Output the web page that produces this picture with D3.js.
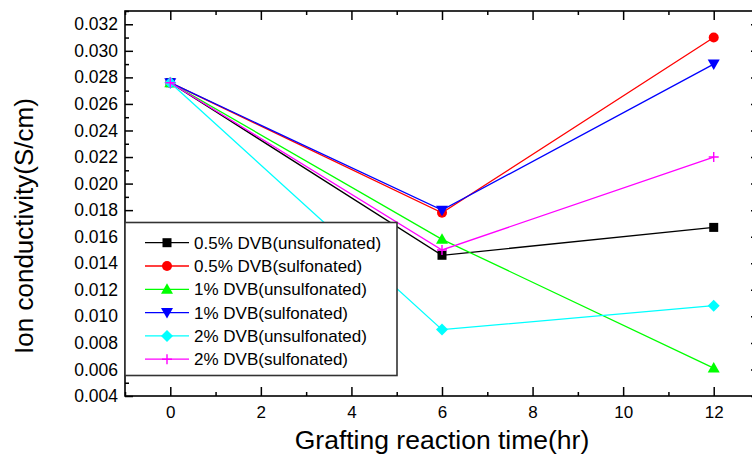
<!DOCTYPE html>
<html>
<head>
<meta charset="utf-8">
<script src="https://cdn.jsdelivr.net/npm/d3@7"></script>
<style>
  body { margin: 0; background: #fff; }
  svg { display: block; }
  text { font-family: "Liberation Sans", Arial, sans-serif; fill: #000; }
</style>
</head>
<body>
<svg id="chart" width="752" height="467"></svg>
<script>
// ---- data ----
const times = [0, 6, 12];
const seriesNames = [
  "0.5% DVB(unsulfonated)",
  "0.5% DVB(sulfonated)",
  "1% DVB(unsulfonated)",
  "1% DVB(sulfonated)",
  "2% DVB(unsulfonated)",
  "2% DVB(sulfonated)"
];
const s05unsulf = [0.0276, 0.0146, 0.0167];
const s05sulf   = [0.0276, 0.0178, 0.0310];
const s1unsulf  = [0.0276, 0.0158, 0.0061];
const s1sulf    = [0.0276, 0.0180, 0.0290];
const s2unsulf  = [0.0276, 0.0090, 0.0108];
const s2sulf    = [0.0276, 0.0150, 0.0220];
const xTickValues = [0, 2, 4, 6, 8, 10, 12];
const yTickValues = [0.004, 0.006, 0.008, 0.010, 0.012, 0.014, 0.016, 0.018, 0.020, 0.022, 0.024, 0.026, 0.028, 0.030, 0.032];
const xTitle = "Grafting reaction time(hr)";
const yTitle = "Ion conductivity(S/cm)";

// ---- styles ----
const colors = ["#000000", "#ff0000", "#00ff00", "#0000ff", "#00ffff", "#ff00ff"];
const symbols = ["square", "circle", "triUp", "triDown", "diamond", "plus"];
const allSeries = [s05unsulf, s05sulf, s1unsulf, s1sulf, s2unsulf, s2sulf];

const svg = d3.select("#chart");
const L = 125, R = 759, T = 11, B = 396;

const x = d3.scaleLinear().domain([-1, 13]).range([L, R]);
const y = d3.scaleLinear().domain([0.004, 0.033]).range([B, T]);

const xMinor = d3.range(-1, 14, 2);
const yMinor = d3.range(0.005, 0.0331, 0.002);

function styleAxis(g) {
  g.select(".domain").remove();
  g.selectAll(".tick line").attr("stroke", "#000").attr("stroke-width", 1.5);
}
// bottom
svg.append("g").attr("transform", `translate(0,${B})`)
  .call(d3.axisBottom(x).tickValues(xTickValues).tickSize(-9).tickPadding(10).tickFormat(d3.format("d")))
  .call(styleAxis)
  .call(g => g.selectAll("text").attr("font-size", 17).attr("font-family", "Liberation Sans, Arial"));
svg.append("g").attr("transform", `translate(0,${B})`)
  .call(d3.axisBottom(x).tickValues(xMinor).tickSize(-4).tickFormat(""))
  .call(styleAxis);
// top
svg.append("g").attr("transform", `translate(0,${T})`)
  .call(d3.axisTop(x).tickValues(xTickValues).tickSize(-9).tickFormat(""))
  .call(styleAxis);
svg.append("g").attr("transform", `translate(0,${T})`)
  .call(d3.axisTop(x).tickValues(xMinor).tickSize(-4).tickFormat(""))
  .call(styleAxis);
// left
svg.append("g").attr("transform", `translate(${L},0)`)
  .call(d3.axisLeft(y).tickValues(yTickValues).tickSize(-8).tickPadding(7).tickFormat(d3.format(".3f")))
  .call(styleAxis)
  .call(g => g.selectAll("text").attr("font-size", 17.5).attr("font-family", "Liberation Sans, Arial"));
svg.append("g").attr("transform", `translate(${L},0)`)
  .call(d3.axisLeft(y).tickValues(yMinor).tickSize(-4).tickFormat(""))
  .call(styleAxis);
// right
svg.append("g").attr("transform", `translate(${R},0)`)
  .call(d3.axisRight(y).tickValues(yTickValues).tickSize(-8).tickFormat(""))
  .call(styleAxis);
svg.append("g").attr("transform", `translate(${R},0)`)
  .call(d3.axisRight(y).tickValues(yMinor).tickSize(-4).tickFormat(""))
  .call(styleAxis);

// frame
svg.append("rect").attr("x", L).attr("y", T).attr("width", R - L).attr("height", B - T)
  .attr("fill", "none").attr("stroke", "#000").attr("stroke-width", 1.6);

function drawMarker(g, type, cx, cy, color) {
  const s = 5;
  if (type === "square") {
    g.append("rect").attr("x", cx - 4.5).attr("y", cy - 4.5).attr("width", 9).attr("height", 9).attr("fill", color);
  } else if (type === "circle") {
    g.append("circle").attr("cx", cx).attr("cy", cy).attr("r", 5).attr("fill", color);
  } else if (type === "triUp") {
    g.append("path").attr("d", `M${cx},${cy - 6}L${cx + 6},${cy + 4.5}L${cx - 6},${cy + 4.5}Z`).attr("fill", color);
  } else if (type === "triDown") {
    g.append("path").attr("d", `M${cx},${cy + 6}L${cx + 6},${cy - 4.5}L${cx - 6},${cy - 4.5}Z`).attr("fill", color);
  } else if (type === "diamond") {
    g.append("path").attr("d", `M${cx},${cy - 6}L${cx + 6},${cy}L${cx},${cy + 6}L${cx - 6},${cy}Z`).attr("fill", color);
  } else if (type === "plus") {
    g.append("path").attr("d", `M${cx - s},${cy}H${cx + s}M${cx},${cy - s}V${cy + s}`)
      .attr("stroke", color).attr("stroke-width", 1.4).attr("fill", "none");
  }
}

const line = d3.line().x((d, i) => x(times[i])).y(d => y(d));
const plot = svg.append("g");
allSeries.forEach((vals, k) => {
  const g = plot.append("g");
  g.append("path").datum(vals).attr("d", line)
    .attr("fill", "none").attr("stroke", colors[k]).attr("stroke-width", 1.3);
  vals.forEach((v, i) => drawMarker(g, symbols[k], x(times[i]), y(v), colors[k]));
});

// legend
const lg = svg.append("g");
lg.append("rect").attr("x", L).attr("y", 222.5).attr("width", 272).attr("height", 153)
  .attr("fill", "#fff").attr("stroke", "#333").attr("stroke-width", 1.6);
seriesNames.forEach((name, k) => {
  const yy = 242.7 + k * 23.3;
  lg.append("line").attr("x1", 145).attr("x2", 189).attr("y1", yy).attr("y2", yy)
    .attr("stroke", colors[k]).attr("stroke-width", 1.3);
  drawMarker(lg, symbols[k], 167, yy, colors[k]);
  lg.append("text").attr("x", 194).attr("y", yy).attr("dy", "0.36em")
    .attr("font-size", 17).text(name);
});

// titles
svg.append("text").attr("x", 442).attr("y", 449).attr("text-anchor", "middle")
  .attr("font-size", 26.5).text(xTitle);
svg.append("text").attr("transform", "translate(33,226) rotate(-90)").attr("text-anchor", "middle")
  .attr("font-size", 26).text(yTitle);
</script>
</body>
</html>
